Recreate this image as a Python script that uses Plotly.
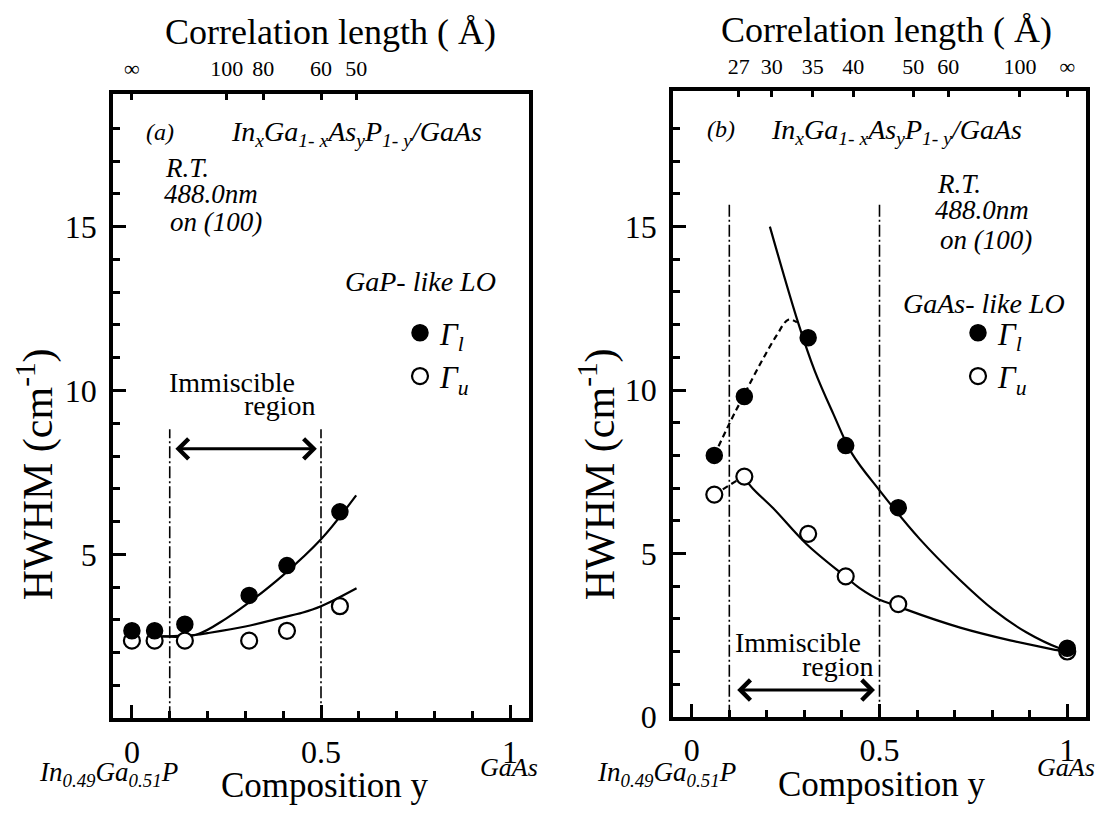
import plotly.graph_objects as go

# ---------------- data ----------------
# panel (a): GaP-like LO
comp_a = [0.0, 0.06, 0.14, 0.31, 0.41, 0.55]
gl_a = [2.67, 2.67, 2.87, 3.75, 4.66, 6.30]
gu_a = [2.37, 2.37, 2.37, 2.37, 2.67, 3.42]
fit_gl_a_x = [0.08, 0.17, 0.25, 0.30, 0.40, 0.50, 0.593]
fit_gl_a_y = [2.50, 2.55, 3.05, 3.45, 4.37, 5.46, 6.80]
fit_gu_a_x = [0.08, 0.17, 0.20, 0.30, 0.40, 0.45, 0.50, 0.594]
fit_gu_a_y = [2.50, 2.55, 2.60, 2.80, 3.08, 3.22, 3.42, 3.97]

# panel (b): GaAs-like LO
comp_b = [0.06, 0.14, 0.31, 0.41, 0.55, 1.0]
gl_b = [8.0, 9.8, 11.6, 8.3, 6.4, 2.1]
gu_b = [6.8, 7.35, 5.6, 4.3, 3.45, 2.0]
fit_gl_b_x = [0.208, 0.283, 0.328, 0.377, 0.426, 0.50, 0.608, 0.715, 0.803, 0.892, 0.981, 1.0]
fit_gl_b_y = [15.0, 12.07, 10.57, 9.27, 8.07, 6.93, 5.43, 4.18, 3.28, 2.58, 2.09, 2.03]
dash_gl_b_x = [0.06, 0.10, 0.137, 0.181, 0.226, 0.257, 0.28]
dash_gl_b_y = [8.0, 8.97, 9.8, 10.77, 11.67, 12.15, 12.07]
dash_gu_b_x = [0.06, 0.137]
dash_gu_b_y = [6.8, 7.35]
fit_gu_b_x = [0.137, 0.163, 0.217, 0.306, 0.408, 0.448, 0.50, 0.546, 0.572, 0.715, 0.848, 0.973, 1.0]
fit_gu_b_y = [7.35, 6.98, 6.38, 5.28, 4.30, 3.93, 3.58, 3.40, 3.28, 2.73, 2.34, 2.04, 1.98]

# immiscible region bounds (composition y)
immiscible = [0.1, 0.5]
imm_top_a = 8.82
imm_top_b = 15.76
arrow_a = [0.111, 0.489, 8.22]
arrow_b = [0.117, 0.488, 0.82]

# top axis: correlation length
corr_a_text = ['∞', '100', '80', '60', '50']
corr_a_pos = [0.0, 0.251, 0.347, 0.50, 0.593]
corr_b_text = ['27', '30', '35', '40', '50', '60', '100', '∞']
corr_b_pos = [0.125, 0.213, 0.322, 0.430, 0.590, 0.683, 0.874, 1.0]

# ---------------- figure ----------------
W, H = 1102, 817
FONT = "Liberation Serif, Times New Roman, serif"


def fx(p):
    return p / W


def fy(p):
    return 1 - p / H


fig = go.Figure()

LW = 2.2
for xs, ys in [(fit_gl_a_x, fit_gl_a_y), (fit_gu_a_x, fit_gu_a_y)]:
    fig.add_trace(go.Scatter(x=xs, y=ys, mode='lines', line=dict(color='black', width=LW, shape='spline'),
                             showlegend=False, xaxis='x', yaxis='y'))
fig.add_trace(go.Scatter(x=fit_gl_b_x, y=fit_gl_b_y, mode='lines',
                         line=dict(color='black', width=LW, shape='spline'), showlegend=False, xaxis='x2', yaxis='y2'))
fig.add_trace(go.Scatter(x=dash_gl_b_x, y=dash_gl_b_y, mode='lines',
                         line=dict(color='black', width=LW, shape='spline', dash='6px,4px'), showlegend=False,
                         xaxis='x2', yaxis='y2'))
fig.add_trace(go.Scatter(x=dash_gu_b_x, y=dash_gu_b_y, mode='lines',
                         line=dict(color='black', width=LW, dash='6px,4px'), showlegend=False, xaxis='x2', yaxis='y2'))
fig.add_trace(go.Scatter(x=fit_gu_b_x, y=fit_gu_b_y, mode='lines',
                         line=dict(color='black', width=LW, shape='spline'), showlegend=False, xaxis='x2', yaxis='y2'))

for xa, ya, top in [('x', 'y', imm_top_a), ('x2', 'y2', imm_top_b)]:
    for b in immiscible:
        fig.add_trace(go.Scatter(x=[b, b], y=[0, top], mode='lines',
                                 line=dict(color='black', width=1.6, dash='12px,3px,2px,3px'),
                                 showlegend=False, xaxis=xa, yaxis=ya))

MS = 16
filled = dict(symbol='circle', size=MS, color='black', line=dict(color='black', width=1.5))
opened = dict(symbol='circle', size=MS, color='white', line=dict(color='black', width=2.2))
GL = '<i>Γ</i><sub><i>l</i></sub>'
GU = '<i>Γ</i><sub><i>u</i></sub>'

fig.add_trace(go.Scatter(x=comp_a, y=gu_a, mode='markers', marker=opened, name=GU, legend='legend',
                         legendrank=2, xaxis='x', yaxis='y'))
fig.add_trace(go.Scatter(x=comp_a, y=gl_a, mode='markers', marker=filled, name=GL, legend='legend',
                         legendrank=1, xaxis='x', yaxis='y'))
fig.add_trace(go.Scatter(x=comp_b, y=gu_b, mode='markers', marker=opened, name=GU, legend='legend2',
                         legendrank=2, xaxis='x2', yaxis='y2'))
fig.add_trace(go.Scatter(x=comp_b, y=gl_b, mode='markers', marker=filled, name=GL, legend='legend2',
                         legendrank=1, xaxis='x2', yaxis='y2'))

TICKF = dict(family=FONT, size=32, color='black')
minor_x = dict(tickvals=[0.1, 0.2, 0.3, 0.4, 0.6, 0.7, 0.8, 0.9], ticklen=7, tickwidth=3, ticks='inside',
               tickcolor='black')
minor_y = dict(tickvals=[v for v in range(1, 19) if v % 5 != 0], ticklen=7, tickwidth=3, ticks='inside',
               tickcolor='black')


def xax(dom, anchor):
    return dict(domain=dom, range=[-0.05, 1.05], anchor=anchor, showline=True, mirror=True, linewidth=3.8,
                linecolor='black', ticks='inside', tickvals=[0, 0.5, 1], ticktext=['0', '0.5', '1'],
                ticklen=13, tickwidth=3, tickcolor='black', minor=minor_x, showgrid=False, zeroline=False,
                tickfont=TICKF, ticklabelstandoff=2)


def yax(dom, anchor, rng, vals):
    return dict(domain=dom, range=rng, anchor=anchor, showline=True, mirror=True, linewidth=3.8,
                linecolor='black', ticks='inside', tickvals=vals, ticklen=13, tickwidth=3, tickcolor='black',
                minor=minor_y, showgrid=False, zeroline=False, tickfont=TICKF, ticklabelstandoff=6)


def topax(over, anchor, pos, text):
    return dict(overlaying=over, anchor=anchor, side='top', range=[-0.05, 1.05], tickvals=pos, ticktext=text,
                ticks='inside', ticklen=6, tickwidth=2.5, tickcolor='black', showgrid=False, zeroline=False,
                showline=False, tickfont=dict(family=FONT, size=22, color='black'), ticklabelstandoff=12)


dom_xa = [fx(113), fx(529)]
dom_xb = [fx(673), fx(1086)]
dom_ya = [fy(734.5), fy(96)]
dom_yb = [fy(733), fy(93)]

ann = []


def text(x, y, s, size, xref, yref, xanchor='center', angle=0):
    ann.append(dict(x=x, y=y, xref=xref, yref=yref, text=s, showarrow=False, xanchor=xanchor, yanchor='middle',
                    textangle=angle, font=dict(family=FONT, size=size, color='black')))


FORM = '<i>In<sub>x</sub>Ga<sub>1- x</sub>As<sub>y</sub>P<sub>1- y</sub>/GaAs</i>'
# panel (a) texts
text(0.074, 17.9, '<i>(a)</i>', 24, 'x', 'y')
text(0.593, 17.85, FORM, 28, 'x', 'y')
text(0.082, 16.8, '<i>R.T.</i>', 27, 'x', 'y', 'left')
text(0.079, 16.0, '<i>488.0nm</i>', 27, 'x', 'y', 'left')
text(0.095, 15.15, '<i>on (100)</i>', 27, 'x', 'y', 'left')
text(0.762, 13.33, '<i>GaP- like LO</i>', 28, 'x', 'y')
text(0.264, 10.23, 'Immiscible', 28, 'x', 'y')
text(0.392, 9.55, 'region', 28, 'x', 'y')
# panel (b) texts
text(0.079, 18.0, '<i>(b)</i>', 24, 'x2', 'y2')
text(0.544, 17.9, FORM, 28, 'x2', 'y2')
text(0.648, 16.3, '<i>R.T.</i>', 27, 'x2', 'y2', 'left')
text(0.643, 15.5, '<i>488.0nm</i>', 27, 'x2', 'y2', 'left')
text(0.656, 14.6, '<i>on (100)</i>', 27, 'x2', 'y2', 'left')
text(0.779, 12.66, '<i>GaAs- like LO</i>', 28, 'x2', 'y2')
text(0.283, 2.28, 'Immiscible', 28, 'x2', 'y2')
text(0.39, 1.55, 'region', 28, 'x2', 'y2')

# titles
TOP = 'Correlation length ( Å)'
text(fx(330), fy(33), TOP, 36, 'paper', 'paper')
text(fx(886), fy(31), TOP, 36, 'paper', 'paper')
text(fx(325), fy(803), 'Composition y', 35, 'paper', 'paper')
text(fx(882), fy(802), 'Composition y', 35, 'paper', 'paper')
text(fx(108), fy(791), '<i>In<sub>0.49</sub>Ga<sub>0.51</sub>P</i>', 27, 'paper', 'paper')
text(fx(666), fy(791), '<i>In<sub>0.49</sub>Ga<sub>0.51</sub>P</i>', 27, 'paper', 'paper')
text(fx(509), fy(785), '<i>GaAs</i>', 26, 'paper', 'paper')
text(fx(1066), fy(785), '<i>GaAs</i>', 26, 'paper', 'paper')
YT = 'HWHM (cm<sup>-1</sup>)'
text(fx(36), fy(485), YT, 42, 'paper', 'paper', angle=-90)
text(fx(598), fy(485), YT, 42, 'paper', 'paper', angle=-90)

# arrows
for (a0, a1, ay), xr, yr in [(arrow_a, 'x', 'y'), (arrow_b, 'x2', 'y2')]:
    ann.append(dict(x=a1, y=ay, ax=a0, ay=ay, xref=xr, yref=yr, axref=xr, ayref=yr, text='', showarrow=True,
                    arrowhead=4, startarrowhead=4, arrowside='end+start', arrowsize=1.3, startarrowsize=1.3,
                    arrowwidth=3, arrowcolor='black', standoff=0, startstandoff=0))

LEGF = dict(family=FONT, size=31, color='black')
fig.update_layout(
    width=W, height=H, margin=dict(l=0, r=0, t=0, b=0), paper_bgcolor='white', plot_bgcolor='white',
    xaxis=xax(dom_xa, 'y'), yaxis=yax(dom_ya, 'x', [0, 19.05], [5, 10, 15]),
    xaxis2=xax(dom_xb, 'y2'), yaxis2=yax(dom_yb, 'x2', [0, 19.15], [0, 5, 10, 15]),
    xaxis3=topax('x', 'y', corr_a_pos, corr_a_text),
    xaxis4=topax('x2', 'y2', corr_b_pos, corr_b_text),
    legend=dict(x=fx(400), y=fy(313), xanchor='left', yanchor='top', bgcolor='rgba(0,0,0,0)', font=LEGF,
                tracegroupgap=0, itemclick=False),
    legend2=dict(x=fx(958), y=fy(313), xanchor='left', yanchor='top', bgcolor='rgba(0,0,0,0)', font=LEGF,
                 tracegroupgap=0, itemclick=False),
    annotations=ann, showlegend=True,
)
fig.add_trace(go.Scatter(x=[None], y=[None], xaxis='x3', yaxis='y', showlegend=False))
fig.add_trace(go.Scatter(x=[None], y=[None], xaxis='x4', yaxis='y2', showlegend=False))

fig.write_html("out.html")
